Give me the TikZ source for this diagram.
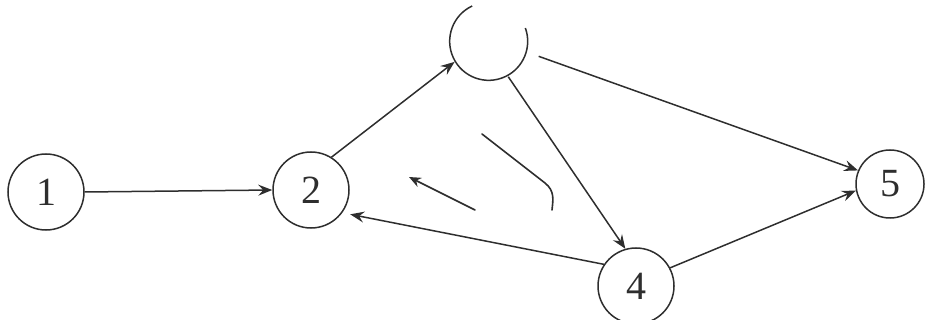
\documentclass[tikz,border=0pt]{standalone}
\usepackage{fontspec}
\setmainfont{Liberation Serif}
\usetikzlibrary{arrows.meta}
\definecolor{ink}{gray}{0.18}
\tikzset{
  state/.style={circle, draw=ink, line width=1.5pt, minimum size=76pt, inner sep=0pt,
    font=\fontsize{40}{40}\selectfont, text=ink},
  edge/.style={draw=ink, line width=1.5pt, -{Stealth[length=14pt,width=11pt,inset=5pt]}},
  scribble/.style={draw=ink, line width=1.6pt, line cap=round, line join=round}
}
\begin{document}
\begin{tikzpicture}[x=1pt,y=-1pt]
\useasboundingbox (0,0) rectangle (925,320);
\node[state] (n1) at (46,192) {1};
\node[state] (n2) at (311,190) {2};
\node[state, draw=none, minimum size=78pt] (t) at (489,42) {};
\draw[ink, line width=1.5pt] (t.115) arc[start angle=115, end angle=380, radius=39pt];
\node[state] (n4) at (636,286) {4};
\node[state, minimum size=68pt] (n5) at (890,184) {5};
\draw[edge] (n1.east) -- (n2.west);
\draw[edge] (n2.58) -- (t.210);
\draw[edge, shorten <=12pt] (t.-15) -- (n5.157);
\draw[edge] (t.-61) -- (n4.106);
\draw[edge] (n4.28) -- (n5.191);
\draw[edge, shorten >=8pt] (n4.146) -- (n2.-36);
% hand-drawn annotations in the middle
\coordinate (c1) at (482,134);
\coordinate (c2) at (552,210);
\draw[scribble] (c1) -- (545,183) .. controls (555,191) and (553,200) .. (c2);
\coordinate (a1) at (475,210);
\coordinate (a2) at (409,177);
\draw[scribble, -{Stealth[length=12pt,width=10pt,inset=4pt]}] (a1) -- (a2);
\end{tikzpicture}
\end{document}
